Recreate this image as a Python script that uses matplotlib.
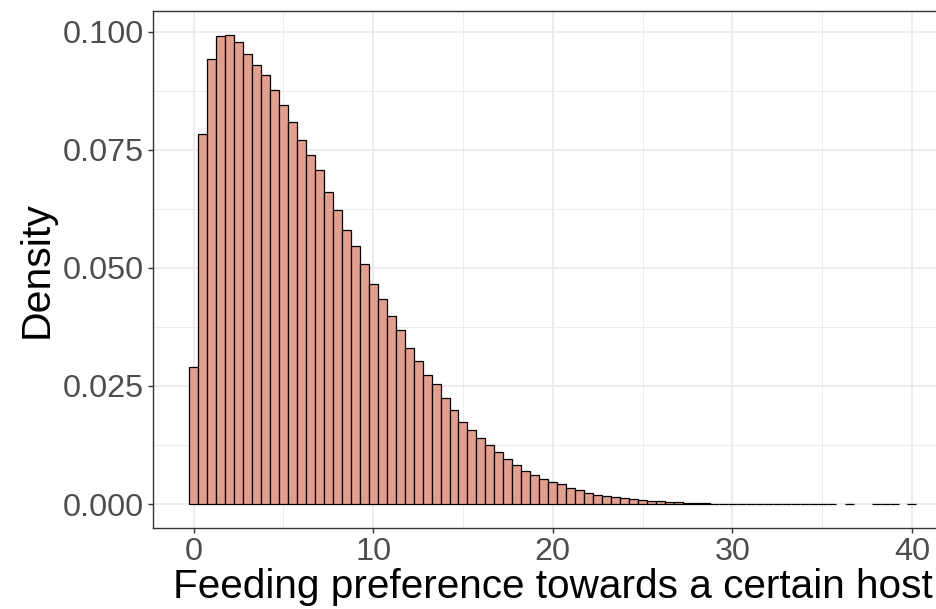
import numpy as np
import matplotlib
matplotlib.use("Agg")
import matplotlib.pyplot as plt
from matplotlib.ticker import MultipleLocator, FixedLocator

plt.rcParams["font.family"] = ["Liberation Sans", "DejaVu Sans"]

# Histogram of feeding preference: bin centres (width 0.5) and densities
bin_width = 0.5
bin_centers = [
    0.0, 0.5, 1.0, 1.5, 2.0, 2.5, 3.0, 3.5, 4.0, 4.5,
    5.0, 5.5, 6.0, 6.5, 7.0, 7.5, 8.0, 8.5, 9.0, 9.5,
    10.0, 10.5, 11.0, 11.5, 12.0, 12.5, 13.0, 13.5, 14.0, 14.5,
    15.0, 15.5, 16.0, 16.5, 17.0, 17.5, 18.0, 18.5, 19.0, 19.5,
    20.0, 20.5, 21.0, 21.5, 22.0, 22.5, 23.0, 23.5, 24.0, 24.5,
    25.0, 25.5, 26.0, 26.5, 27.0, 27.5, 28.0, 28.5, 29.0, 29.5,
    30.0, 30.5, 31.0, 31.5, 32.0, 32.5, 33.0, 33.5, 34.0, 34.5,
    35.0, 35.5, 36.0, 36.5, 37.0, 37.5, 38.0, 38.5, 39.0, 39.5,
    40.0,
]
density = [
    0.0291, 0.0783, 0.0942, 0.0990, 0.0993, 0.0977, 0.0952, 0.0930, 0.0907, 0.0876,
    0.0845, 0.0809, 0.0771, 0.0739, 0.0706, 0.0661, 0.0623, 0.0580, 0.0547, 0.0507,
    0.0466, 0.0435, 0.0399, 0.0368, 0.0330, 0.0302, 0.0273, 0.0254, 0.0225, 0.0199,
    0.0174, 0.0157, 0.0139, 0.0124, 0.0110, 0.0096, 0.0083, 0.0070, 0.0062, 0.0054,
    0.0046, 0.0042, 0.0034, 0.0029, 0.0023, 0.0020, 0.0017, 0.0015, 0.0012, 0.0010,
    0.0008, 0.0007, 0.0006, 0.0004, 0.0004, 0.0003, 0.0002, 0.00015, 0.0001, 0.00008,
    0.00006, 0.00005, 0.00004, 0.00003, 0.00002, 0.00002, 0.00001, 0.00001, 0.00001, 0.00001,
    0.00001, 0.00001, 0.0, 0.000005, 0.0, 0.0, 0.000005, 0.000005, 0.000005, 0.0,
    0.000005,
]
x_ticks = [0, 10, 20, 30, 40]
y_ticks = [0.000, 0.025, 0.050, 0.075, 0.100]
y_tick_labels = ["0.000", "0.025", "0.050", "0.075", "0.100"]

fig = plt.figure(figsize=(9.37, 6.09), dpi=100)
ax = fig.add_axes([0.163, 0.1338, 1.0169 - 0.163, 0.9813 - 0.1338])

centers = np.asarray(bin_centers)
heights = np.asarray(density)
drawn = heights > 0
ax.bar(centers[drawn], heights[drawn], width=bin_width, align="center",
       color="#E39E8D", edgecolor="black", linewidth=0.9, zorder=3)

# ggplot-style expansion of the data range
x_lo, x_hi = centers.min() - bin_width / 2, centers.max() + bin_width / 2
x_pad = (x_hi - x_lo) * 0.05
ax.set_xlim(x_lo - x_pad, x_hi + x_pad)
y_hi = heights.max()
ax.set_ylim(-y_hi * 0.05, y_hi * 1.05)

ax.xaxis.set_major_locator(FixedLocator(x_ticks))
ax.xaxis.set_minor_locator(MultipleLocator(5))
ax.yaxis.set_major_locator(FixedLocator(y_ticks))
ax.set_yticklabels(y_tick_labels)
ax.yaxis.set_minor_locator(MultipleLocator(0.0125))

ax.grid(which="major", color="#EBEBEB", linewidth=1.3, zorder=0)
ax.grid(which="minor", color="#EBEBEB", linewidth=0.7, zorder=0)
ax.set_axisbelow(True)

for side in ax.spines.values():
    side.set_color("#333333")
    side.set_linewidth(1.0)

ax.tick_params(which="major", length=3.5, width=1.0, color="#333333",
               labelsize=23.3, labelcolor="#4D4D4D", pad=3)
ax.tick_params(which="minor", length=0)

ax.set_xlabel("Feeding preference towards a certain host", fontsize=29.2,
              color="black", labelpad=1)
ax.set_ylabel("Density", fontsize=29.5, color="black", labelpad=5)

fig.savefig("out.png", dpi=100)
